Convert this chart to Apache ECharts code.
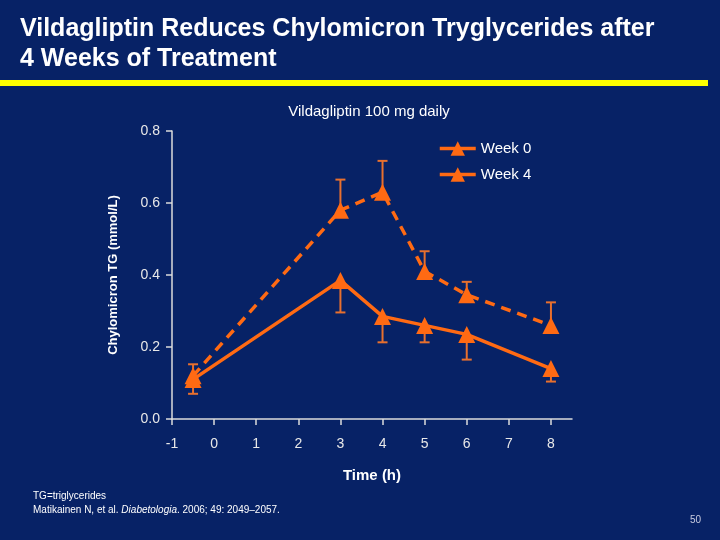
<!DOCTYPE html>
<html><head><meta charset="utf-8">
<script src="https://cdn.jsdelivr.net/npm/echarts@6/dist/echarts.min.js"></script>
<style>html,body{margin:0;padding:0;background:#072266;}#c{width:720px;height:540px;}</style>
</head><body><div id="c"></div>
<script>
// Data
const times = [-0.5, 3, 4, 5, 6, 8];
const week0Mean = [0.12, 0.58, 0.63, 0.41, 0.345, 0.26];
const week0Upper = [0.152, 0.665, 0.717, 0.466, 0.381, 0.324];
const week4Mean = [0.11, 0.385, 0.285, 0.26, 0.235, 0.14];
const week4Lower = [0.07, 0.296, 0.213, 0.213, 0.165, 0.104];
const xTicks = [-1, 0, 1, 2, 3, 4, 5, 6, 7, 8];
const yTicks = [0, 0.2, 0.4, 0.6, 0.8];

const ORANGE = '#FF6A13';
const BAR = '#E8702E';
const FONT = '"Liberation Sans", Arial, sans-serif';

function errData(mean, lim) {
  return times.map((t, i) => [t, mean[i], lim[i]]);
}
function errRender(params, api) {
  const x = api.value(0);
  const p0 = api.coord([x, api.value(1)]);
  const p1 = api.coord([x, api.value(2)]);
  const hw = 5;
  const st = { stroke: BAR, lineWidth: 2 };
  return { type: 'group', children: [
    { type: 'line', shape: { x1: p0[0], y1: p0[1], x2: p1[0], y2: p1[1] }, style: st },
    { type: 'line', shape: { x1: p1[0] - hw, y1: p1[1], x2: p1[0] + hw, y2: p1[1] }, style: st }
  ]};
}

const chart = echarts.init(document.getElementById('c'));
chart.setOption({
  backgroundColor: '#072266',
  animation: false,
  textStyle: { fontFamily: FONT },
  grid: { left: 172, right: 148, top: 131, bottom: 121, containLabel: false },
  title: {
    text: 'Vildagliptin 100 mg daily', left: 364, top: 99, textAlign: 'center',
    textStyle: { color: '#ffffff', fontSize: 15, fontWeight: 'normal', fontFamily: FONT }
  },
  legend: {
    orient: 'vertical', left: 433, top: 136, itemWidth: 36, itemHeight: 18, itemGap: 11,
    textStyle: { color: '#ffffff', fontSize: 15, fontFamily: FONT },
    data: [
      { name: 'Week 0', lineStyle: { type: 'solid', width: 3.5, color: ORANGE } },
      { name: 'Week 4', lineStyle: { type: 'solid', width: 3.5, color: ORANGE } }
    ]
  },
  xAxis: {
    type: 'value', min: -1, max: 8.5, interval: 1,
    name: 'Time (h)', nameLocation: 'middle', nameGap: 49,
    nameTextStyle: { color: '#ffffff', fontSize: 15, fontWeight: 'bold', fontFamily: FONT },
    axisLine: { onZero: false, lineStyle: { color: '#dcdcdc', width: 1.5 } },
    axisTick: { show: true, length: 6, customValues: xTicks, lineStyle: { color: '#dcdcdc', width: 1.5 } },
    axisLabel: { customValues: xTicks, color: '#e8e8e8', fontSize: 14, margin: 18, fontFamily: FONT },
    splitLine: { show: false }
  },
  yAxis: {
    type: 'value', min: 0, max: 0.8, interval: 0.2,
    name: 'Chylomicron TG (mmol/L)', nameLocation: 'middle', nameGap: 52, nameRotate: 90,
    nameTextStyle: { color: '#ffffff', fontSize: 13, fontWeight: 'bold', fontFamily: FONT },
    axisLine: { show: true, onZero: false, lineStyle: { color: '#dcdcdc', width: 1.5 } },
    axisTick: { show: true, length: 6, lineStyle: { color: '#dcdcdc', width: 1.5 } },
    axisLabel: { color: '#e8e8e8', fontSize: 14, margin: 12, fontFamily: FONT, formatter: v => v.toFixed(1) },
    splitLine: { show: false }
  },
  series: [
    { name: 'Week 0 err', type: 'custom', renderItem: errRender, data: errData(week0Mean, week0Upper), z: 1, silent: true },
    { name: 'Week 4 err', type: 'custom', renderItem: errRender, data: errData(week4Mean, week4Lower), z: 1, silent: true },
    {
      name: 'Week 0', type: 'line', data: times.map((t, i) => [t, week0Mean[i]]),
      symbol: 'triangle', symbolSize: [17, 17], itemStyle: { color: ORANGE },
      lineStyle: { color: ORANGE, width: 3.5, type: [10, 7] }, z: 3
    },
    {
      name: 'Week 4', type: 'line', data: times.map((t, i) => [t, week4Mean[i]]),
      symbol: 'triangle', symbolSize: [17, 17], itemStyle: { color: ORANGE },
      lineStyle: { color: ORANGE, width: 3.5, type: 'solid' }, z: 3
    }
  ],
  graphic: [
    { type: 'text', left: 20, top: 14, style: { text: 'Vildagliptin Reduces Chylomicron Tryglycerides after\n4 Weeks of Treatment', fill: '#ffffff', font: 'bold 25px ' + FONT, lineHeight: 30 } },
    { type: 'rect', shape: { x: 0, y: 80, width: 708, height: 6 }, style: { fill: '#FFFF00' } },
    { type: 'text', left: 33, top: 491, style: { text: 'TG=triglycerides', fill: '#ffffff', font: '10px ' + FONT } },
    { type: 'text', left: 33, top: 505, style: {
      text: '{n|Matikainen N, et al. }{i|Diabetologia}{n|. 2006; 49: 2049–2057.}',
      rich: { n: { fill: '#ffffff', font: '10px ' + FONT }, i: { fill: '#ffffff', font: 'italic 10px ' + FONT } }
    } },
    { type: 'text', left: 690, top: 515, style: { text: '50', fill: '#c8cbe0', font: '10px ' + FONT } }
  ]
});
</script></body></html>
